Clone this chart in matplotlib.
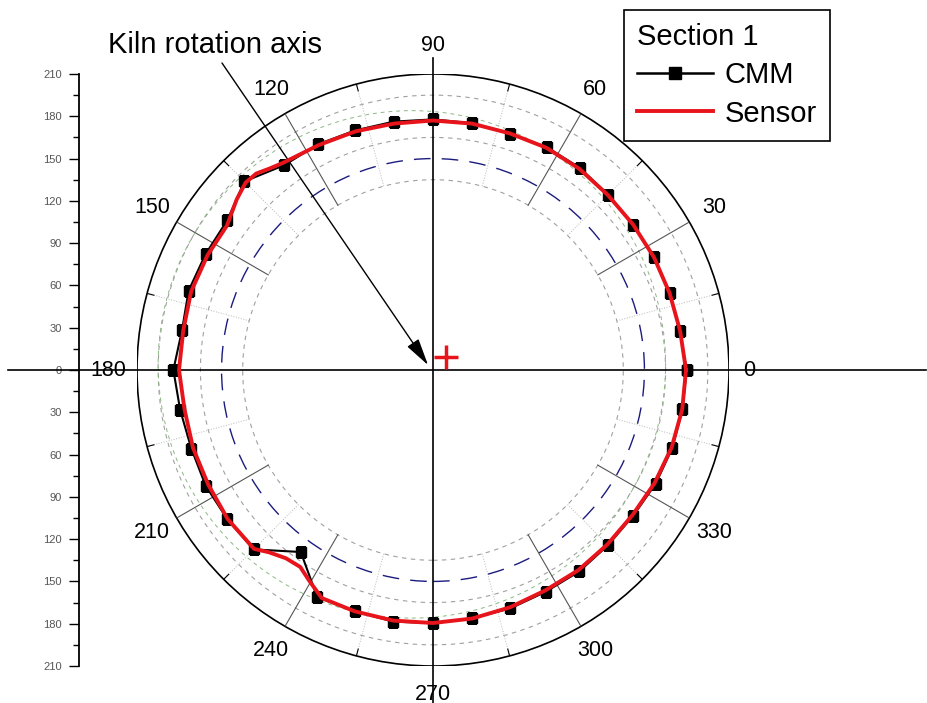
import numpy as np
import matplotlib
matplotlib.use("Agg")
import matplotlib.pyplot as plt
from matplotlib.patches import Circle
from matplotlib.lines import Line2D

plt.rcParams['font.family'] = ['Liberation Sans', 'DejaVu Sans']

# CMM measurement (angle in degrees, radius)
cmm_angle = [0, 9, 18, 27, 36, 45, 54, 63, 72, 81, 90, 99, 108, 117, 126, 135, 144, 153, 162, 171,
             180, 189, 198, 207, 216, 225, 234, 243, 252, 261, 270, 279, 288, 297, 306, 315, 324, 333, 342, 351, 360]
cmm_r = [180.0, 177.2, 176.5, 176.0, 175.4, 175.7, 177.3, 177.5, 176.3, 177.3, 177.8, 178.4, 178.7, 179.7,
         179.6, 189.2, 180.5, 181.1, 182.3, 180.3, 184.2, 181.6, 180.3, 181.0, 180.3, 180.0, 159.6, 180.9,
         179.9, 180.7, 179.6, 178.4, 177.8, 176.5, 176.6, 175.7, 175.7, 177.4, 178.6, 179.1, 180.0]

# laser sensor profile
sensor_angle = [0, 9, 18, 27, 36, 45, 54, 63, 72, 81, 90, 99, 108, 117, 126, 129, 132, 135, 139, 145, 153,
                162, 171, 180, 189, 198, 207, 216, 225, 228, 232, 236, 240, 244, 252, 261, 270, 279, 288,
                297, 306, 315, 324, 333, 342, 351, 360]
sensor_r = [179.5, 177.5, 176.5, 176.0, 175.5, 175.5, 176.5, 177.0, 176.5, 177.0, 177.0, 177.0, 178.0, 179.0,
            181.5, 184.0, 187.5, 188.0, 184.5, 178.5, 179.5, 180.4, 179.4, 180.2, 178.5, 179.0, 179.0, 180.0,
            179.5, 174.0, 169.5, 168.5, 174.0, 180.0, 180.0, 180.0, 179.5, 178.5, 177.0, 175.5, 175.5, 175.0,
            175.0, 176.5, 178.0, 179.0, 179.5]

grid_rings = [135, 165, 195]
nominal_ring = 150
angle_labels = [0, 30, 60, 90, 120, 150, 180, 210, 240, 270, 300, 330]
major_spokes = [30, 60, 120, 150, 210, 240, 300, 330]
minor_spokes = [15, 45, 75, 105, 135, 165, 195, 225, 255, 285, 315, 345]
kiln_axis = (9, 9)

fig = plt.figure(figsize=(9.27, 7.03), dpi=100)
box = [137 / 927, 37 / 703, 592 / 927, 592 / 703]

# cartesian helper axes: rings, cross lines, radius scale
ax2 = fig.add_axes(box)
ax2.set_xlim(-210, 210)
ax2.set_ylim(-210, 210)
ax2.patch.set_alpha(0)
for s in ['top', 'right', 'bottom']:
    ax2.spines[s].set_visible(False)
ax2.spines['left'].set_position(('outward', 42))
ax2.spines['left'].set_linewidth(1.3)
ax2.set_xticks([])
yt = np.arange(-210, 211, 30)
ax2.set_yticks(yt)
ax2.set_yticklabels([str(abs(v)) for v in yt])
ax2.set_yticks(np.arange(-195, 196, 30), minor=True)
ax2.tick_params(axis='y', which='major', length=7, width=1, pad=5, labelsize=8, labelcolor='#555555')
ax2.tick_params(axis='y', which='minor', length=4, width=1)

for r in grid_rings:
    ax2.add_patch(Circle((0, 0), r, fill=False, ec='#a0a0a0', lw=0.8, ls=(0, (4, 4))))
ax2.add_patch(Circle((0, 0), nominal_ring, fill=False, ec='#1c1c80', lw=1.0, ls=(0, (12, 8))))
ax2.add_patch(Circle((-15, 4), 180, fill=False, ec='#8cb884', lw=0.7, ls=(0, (4, 4))))
ax2.add_patch(Circle((0, 0), 210, fill=False, ec='black', lw=1.2))

ax2.plot([-301.5, 350], [0, 0], color='black', lw=1.2, clip_on=False)
ax2.plot([0, 0], [221, -236], color='black', lw=1.2, clip_on=False)

# polar axes with the measurements
axp = fig.add_axes(box, projection='polar')
axp.set_ylim(0, 210)
axp.set_axis_off()
axp.patch.set_alpha(0)

for a in major_spokes:
    t = np.deg2rad(a)
    axp.plot([t, t], [135, 210], color='#555555', lw=0.8)
for a in minor_spokes:
    t = np.deg2rad(a)
    axp.plot([t, t], [135, 210], color='#b8b8b8', lw=0.7, ls=':')
    axp.plot([t, t], [205, 210], color='black', lw=0.8)

for a in angle_labels:
    rr = 224 if a == 0 else 230
    axp.text(np.deg2rad(a), rr, str(a), ha='center', va='center', fontsize=15.5, clip_on=False)

axp.plot(np.deg2rad(cmm_angle), cmm_r, color='black', lw=1.5, marker='s', ms=7.5, zorder=3)
axp.plot(np.deg2rad(sensor_angle), sensor_r, color='#e8141b', lw=2.8, zorder=4)

ax2.plot(kiln_axis[0], kiln_axis[1], marker='+', ms=17, mew=2.5, color='#e8141b', clip_on=False, zorder=5)

ax2.text(-154.7, 230.6, 'Kiln rotation axis', ha='center', va='center', fontsize=21, clip_on=False)
ax2.annotate('', xy=(-3.5, 3.5), xytext=(-149.7, 217.8),
             arrowprops=dict(arrowstyle='-|>,head_length=1.2,head_width=0.3', color='black', lw=1,
                             mutation_scale=14, shrinkA=0, shrinkB=0), annotation_clip=False)

handles = [Line2D([], [], color='black', lw=1.8, marker='s', ms=8),
           Line2D([], [], color='#e8141b', lw=2.8)]
leg = fig.legend(handles, ['CMM', 'Sensor'], title='Section 1', loc='upper left',
                 bbox_to_anchor=(624 / 927, 1 - 10 / 703), borderaxespad=0, fontsize=21,
                 title_fontsize=21, alignment='left', handlelength=2.6, handletextpad=0.4,
                 numpoints=1, fancybox=False, framealpha=1, edgecolor='black', borderpad=0.45,
                 labelspacing=0.35)
leg.get_frame().set_linewidth(1.2)

fig.savefig('out.png', dpi=100)
